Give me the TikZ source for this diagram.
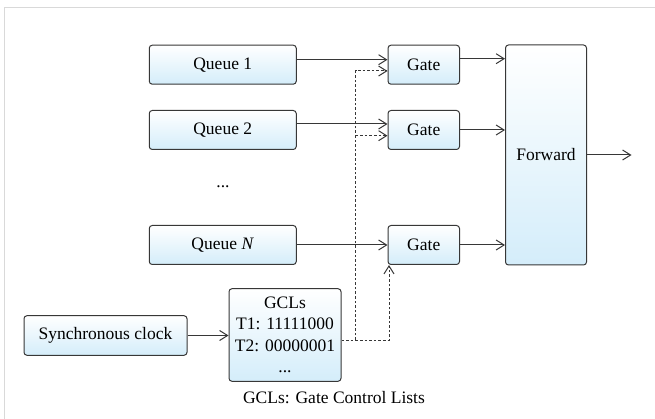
\documentclass[tikz,border=0pt]{standalone}
\usepackage{fontspec}
\setmainfont{Liberation Serif}
\usetikzlibrary{arrows.meta}
\definecolor{boxblue}{RGB}{212,237,250}
\definecolor{boxline}{RGB}{55,55,55}
\tikzset{
	blk/.style={draw=boxline, line width=1pt, rounded corners=3pt,
		top color=white, bottom color=boxblue, inner sep=2pt},
	arr/.style={draw=boxline, line width=1pt, -{Straight Barb[length=8pt,width=10pt]}},
	ctl/.style={arr, dash pattern=on 2.6pt off 2pt}
}
\begin{document}
\begin{tikzpicture}[x=1pt,y=-1pt,font=\fontsize{17.5}{21.5}\selectfont]
	\useasboundingbox (0,0) rectangle (655,419);
	% frame
	\draw[black!15, line width=1.5pt] (4.5,419) -- (4.5,7.5) -- (655,7.5);
	% queues
	\node[blk, minimum width=147pt, minimum height=39pt] (q1) at (222.75,64.7) {Queue 1};
	\node[blk, minimum width=147pt, minimum height=39pt] (q2) at (222.75,130) {Queue 2};
	\node (dots) at (223,187) {...};
	\node[blk, minimum width=147pt, minimum height=39pt] (qn) at (222.75,245) {Queue \textit{N}};
	% gates
	\node[blk, minimum width=71.5pt, minimum height=39pt] (g1) at (423.75,64.7) {Gate};
	\node[blk, minimum width=71.5pt, minimum height=39pt] (g2) at (423.75,130) {Gate};
	\node[blk, minimum width=71.5pt, minimum height=39pt] (gn) at (423.75,245) {Gate};
	% forward
	\node[blk, minimum width=81pt, minimum height=220pt] (fwd) at (546,155) {Forward};
	\coordinate (out) at (631.5,155);
	% clock and lists
	\node[blk, minimum width=163pt, minimum height=39.6pt] (clk) at (105.5,335.5) {Synchronous clock};
	\node[blk, minimum width=112pt, minimum height=92.6pt, align=center] (gcl) at (285,335)
		{GCLs\\T1: 11111000\\T2: 00000001\\...};
	\node (note) at (334,398) {GCLs: Gate Control Lists};
	% data path
	\draw[arr] ([yshift=5pt]q1.east) -- ([yshift=5pt]g1.west);
	\draw[arr] ([yshift=6pt]q2.east) -- ([yshift=6pt]g2.west);
	\draw[arr] (qn.east) -- (gn.west);
	\draw[arr] ([yshift=6pt]g1.east) -- ([yshift=6pt]g1.east -| fwd.west);
	\draw[arr] (g2.east) -- (g2.east -| fwd.west);
	\draw[arr] (gn.east) -- (gn.east -| fwd.west);
	\draw[arr] (fwd.east) -- (out);
	\draw[arr] (clk.east) -- (clk.east -| gcl.west);
	% control path
	\coordinate (split) at (355.5,340);
	\draw[ctl] ([yshift=-5pt]gcl.east) -- ([xshift=1.5pt]gn.south west |- split) -- ([xshift=1.5pt]gn.south west);
	\draw[ctl] (split) -- (split |- 0,71) -- ([yshift=-6.3pt]g1.west);
	\draw[ctl] (split |- 0,135.7) -- ([yshift=-5.7pt]g2.west);
\end{tikzpicture}
\end{document}
